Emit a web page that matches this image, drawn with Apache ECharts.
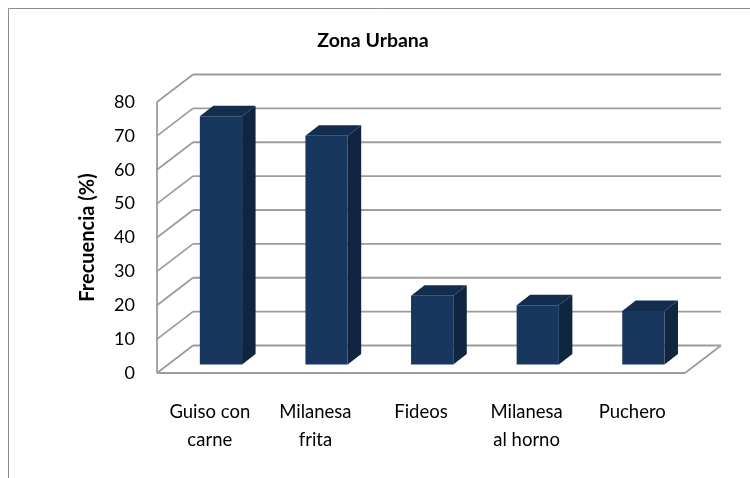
<!DOCTYPE html>
<html>
<head>
<meta charset="utf-8">
<script src="https://cdn.jsdelivr.net/npm/echarts@6/dist/echarts.min.js"></script>
<style>
  html, body { margin: 0; padding: 0; background: #ffffff; }
  #chart { width: 750px; height: 478px; }
</style>
</head>
<body>
<div id="chart"></div>
<script>
// Platos más consumidos — Zona Urbana
const categories = ['Guiso con\ncarne', 'Milanesa\nfrita', 'Fideos', 'Milanesa\nal horno', 'Puchero'];
const frecuencia = [73.3, 67.5, 20.3, 17.5, 15.8];
const yMin = 0;
const yMax = 80;
const yStep = 10;
const gridValues = [0, 10, 20, 30, 40, 50, 60, 70, 80];

// Oblique projection used for the pseudo-3D look
const DEPTH = [36, -27.5];          // full depth of the walls (px)
const BAR_SHIFT = 0.31;             // bars sit this far into the depth
const BAR_DEPTH = [13.5, -10.5];    // thickness of each bar
const BAR_WIDTH_RATIO = 0.40;

const WALL_COLOR = '#9c9c9c';
const FONT = 'Lato, "Liberation Sans", sans-serif';

function wallItem(params, api) {
  const v = api.value(1);
  const cs = params.coordSys;
  const y = api.coord([0, v])[1];
  const x0 = cs.x;
  const x1 = cs.x + cs.width;
  const style = { stroke: WALL_COLOR, lineWidth: 1.8, fill: null };
  const children = [
    // back wall grid line
    { type: 'line', shape: { x1: x0 + DEPTH[0], y1: y + DEPTH[1], x2: x1 + DEPTH[0], y2: y + DEPTH[1] }, style },
    // side wall diagonal
    { type: 'line', shape: { x1: x0, y1: y, x2: x0 + DEPTH[0], y2: y + DEPTH[1] }, style }
  ];
  if (params.dataIndex === 0) {
    const yTop = api.coord([0, yMax])[1];
    children.push(
      { type: 'line', shape: { x1: x0, y1: y, x2: x0, y2: yTop }, style },
      { type: 'line', shape: { x1: x0, y1: y, x2: x1, y2: y }, style },
      { type: 'line', shape: { x1: x1, y1: y, x2: x1 + DEPTH[0], y2: y + DEPTH[1] }, style }
    );
  }
  return { type: 'group', children };
}

function barItem(params, api) {
  const i = api.value(0);
  const v = api.value(1);
  const base = api.coord([i, 0]);
  const top = api.coord([i, v]);
  const band = api.size([1, 0])[0];
  const w = band * BAR_WIDTH_RATIO;
  const ox = DEPTH[0] * BAR_SHIFT;
  const oy = DEPTH[1] * BAR_SHIFT;
  const xl = base[0] - w / 2 + ox;
  const xr = base[0] + w / 2 + ox;
  const yb = base[1] + oy;
  const yt = top[1] + oy;
  const dx = BAR_DEPTH[0], dy = BAR_DEPTH[1];
  return {
    type: 'group',
    children: [
      { type: 'polygon', shape: { points: [[xr, yb], [xr + dx, yb + dy], [xr + dx, yt + dy], [xr, yt]] },
        style: { fill: '#10253f' } },
      { type: 'polygon', shape: { points: [[xl, yt], [xr, yt], [xr + dx, yt + dy], [xl + dx, yt + dy]] },
        style: { fill: '#132d4e' } },
      { type: 'rect', shape: { x: xl, y: yt, width: xr - xl, height: yb - yt },
        style: { fill: '#17375e' } }
    ]
  };
}

const chart = echarts.init(document.getElementById('chart'), null, { renderer: 'canvas' });
chart.setOption({
  backgroundColor: '#ffffff',
  animation: false,
  title: {
    text: 'Zona Urbana',
    left: 368,
    textAlign: 'center',
    top: 26,
    textStyle: { fontFamily: FONT, fontSize: 19.5, fontWeight: 'bold', color: '#000' }
  },
  graphic: [
    { type: 'polyline', shape: { points: [[8.5, 478], [8.5, 8.5], [750, 8.5]] },
      style: { stroke: '#8c8c8c', lineWidth: 1, fill: null } }
  ],
  grid: { left: 157, right: 65, top: 102, bottom: 105 },
  xAxis: {
    type: 'category',
    data: categories,
    axisLine: { show: false },
    axisTick: { show: false },
    axisLabel: {
      margin: 25, fontFamily: FONT, fontSize: 18.5, color: '#000', lineHeight: 28, interval: 0
    }
  },
  yAxis: {
    type: 'value',
    min: yMin, max: yMax, interval: yStep,
    name: 'Frecuencia (%)',
    nameLocation: 'middle',
    nameRotate: 90,
    nameGap: 59,
    nameTextStyle: { fontFamily: FONT, fontSize: 20, fontWeight: 'bold', color: '#000' },
    axisLine: { show: false },
    axisTick: { show: false },
    splitLine: { show: false },
    axisLabel: { margin: 22, fontFamily: FONT, fontSize: 18, color: '#000', padding: [8, 0, 0, 0] }
  },
  series: [
    {
      type: 'custom',
      renderItem: wallItem,
      data: gridValues.map(v => [0, v]),
      clip: false,
      silent: true,
      z: 1
    },
    {
      type: 'custom',
      renderItem: barItem,
      data: frecuencia.map((v, i) => [i, v]),
      clip: false,
      z: 2
    }
  ]
});
</script>
</body>
</html>
